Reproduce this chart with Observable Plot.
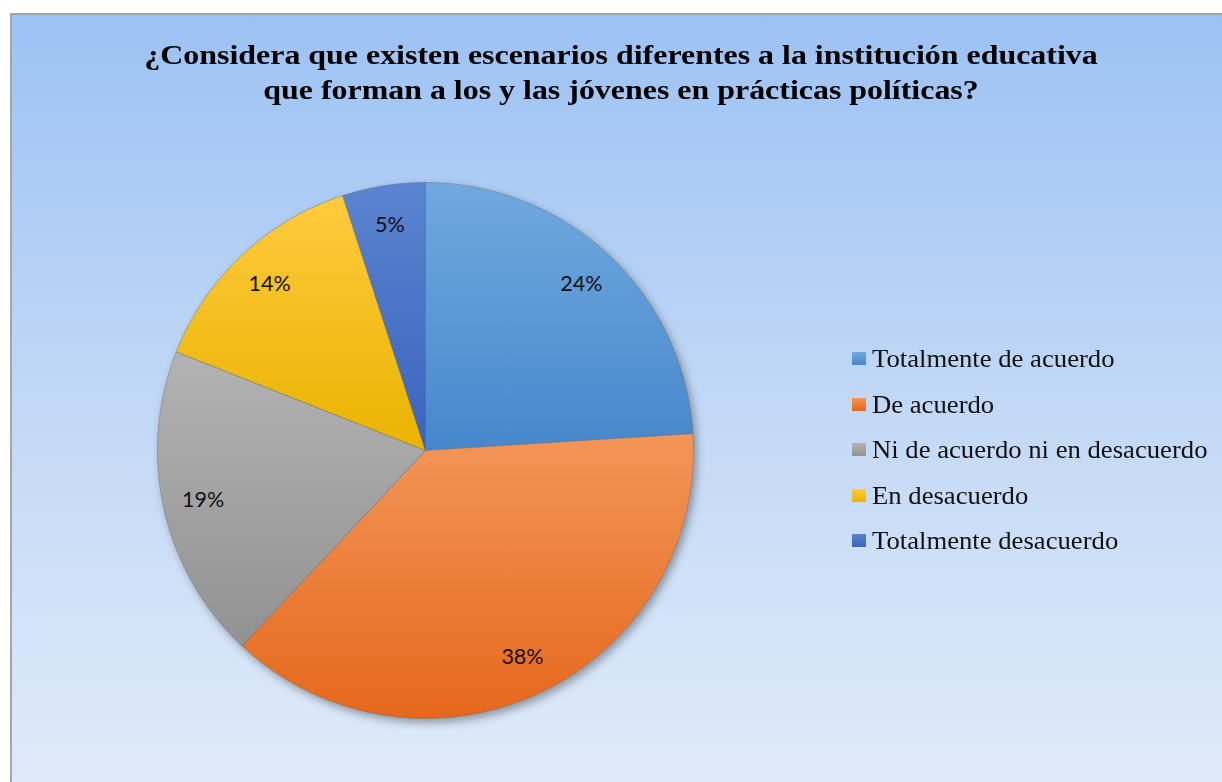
<!DOCTYPE html>
<html>
<head>
<meta charset="utf-8">
<script src="https://cdn.jsdelivr.net/npm/d3@7"></script>
<script src="https://cdn.jsdelivr.net/npm/@observablehq/plot@0.6"></script>
<style>
  html, body { margin: 0; padding: 0; background: #ffffff; overflow: hidden; }
  body { width: 1222px; height: 782px; position: relative; }
  #frame {
    position: absolute; left: 10px; top: 13px; width: 1222px; height: 782px;
    border: 2px solid #a6a6a6; box-sizing: border-box;
    background: linear-gradient(to bottom, #9cc2f4 0%, #c2d8f6 50%, #e0ebf9 100%);
  }
  #title {
    position: absolute; left: 0; width: 1242px; top: 37px;
    text-align: center; font-family: "Liberation Serif", "Times New Roman", serif;
    font-weight: bold; font-size: 28px; line-height: 35px; color: #000;
    transform: scaleX(1.14); transform-origin: 621px 0;
  }
  #chart { position: absolute; left: 0; top: 0; }
  #chart g[aria-label="line"] { filter: drop-shadow(3px 4px 4px rgba(0,0,0,0.35)); }
  #legend {
    position: absolute; left: 852px; top: 344px;
    font-family: "Liberation Serif", "Times New Roman", serif; font-size: 25px; color: #111;
  }
  .item { height: 45.5px; position: relative; white-space: nowrap; }
  .sw { position: absolute; left: 0; top: 8px; width: 14px; height: 13px; }
  .tx { position: absolute; left: 20px; top: 0; line-height: 30px; display: inline-block;
        transform: scaleX(1.067); transform-origin: 0 0; }
</style>
</head>
<body>
<div id="frame"></div>
<div id="title">¿Considera que existen escenarios diferentes a la institución educativa<br>que forman a los y las jóvenes en prácticas políticas?</div>
<div id="chart"></div>
<div id="legend"></div>
<script>
const categories = ["Totalmente de acuerdo", "De acuerdo", "Ni de acuerdo ni en desacuerdo", "En desacuerdo", "Totalmente desacuerdo"];
const values = [24, 38, 19, 14, 5];
const labels = ["24%", "38%", "19%", "14%", "5%"];
const colorsTop = ["#70a9de", "#f39659", "#b3b3b3", "#ffca3e", "#5b84d0"];
const colorsBottom = ["#4687cc", "#e5681c", "#929292", "#e9b400", "#3a63bd"];

const total = d3.sum(values);
const pts = [];
const lab = [];
let acc = 0;
values.forEach((v, i) => {
  const a0 = acc / total * 2 * Math.PI;
  acc += v;
  const a1 = acc / total * 2 * Math.PI;
  const n = Math.max(2, Math.ceil((a1 - a0) / (Math.PI / 360)));
  pts.push({slice: i, x: 0, y: 0, fill: `url(#g${i})`});
  for (let k = 0; k <= n; k++) {
    const a = a0 + (a1 - a0) * k / n;
    pts.push({slice: i, x: Math.sin(a), y: Math.cos(a), fill: `url(#g${i})`});
  }
  pts.push({slice: i, x: 0, y: 0, fill: `url(#g${i})`});
  const m = (a0 + a1) / 2;
  lab.push({x: 0.85 * Math.sin(m), y: 0.85 * Math.cos(m), text: labels[i]});
});

const svg = Plot.plot({
  width: 1222,
  height: 782,
  marginLeft: 157,
  marginRight: 529,
  marginTop: 182,
  marginBottom: 64,
  x: {domain: [-1, 1], axis: null},
  y: {domain: [-1, 1], axis: null},
  color: {type: "identity"},
  style: {background: "transparent", overflow: "visible"},
  marks: [
    Plot.line(pts, {x: "x", y: "y", z: "slice", fill: "fill", stroke: "rgba(110,110,110,0.55)", strokeWidth: 0.8, curve: "linear"}),
    Plot.text(lab, {x: "x", y: "y", text: "text", fontSize: 21.5, fill: "#111", fontFamily: "Lato, 'Open Sans', sans-serif"})
  ]
});

const defs = d3.select(svg).insert("defs", ":first-child");
colorsTop.forEach((c, i) => {
  const g = defs.append("linearGradient").attr("id", `g${i}`).attr("x1", 0).attr("y1", 0).attr("x2", 0).attr("y2", 1);
  g.append("stop").attr("offset", "0%").attr("stop-color", c);
  g.append("stop").attr("offset", "100%").attr("stop-color", colorsBottom[i]);
});
document.getElementById("chart").appendChild(svg);

const legend = d3.select("#legend");
categories.forEach((c, i) => {
  const row = legend.append("div").attr("class", "item");
  row.append("div").attr("class", "sw").style("background", `linear-gradient(${colorsTop[i]}, ${colorsBottom[i]})`);
  row.append("span").attr("class", "tx").text(c);
});
</script>
</body>
</html>
